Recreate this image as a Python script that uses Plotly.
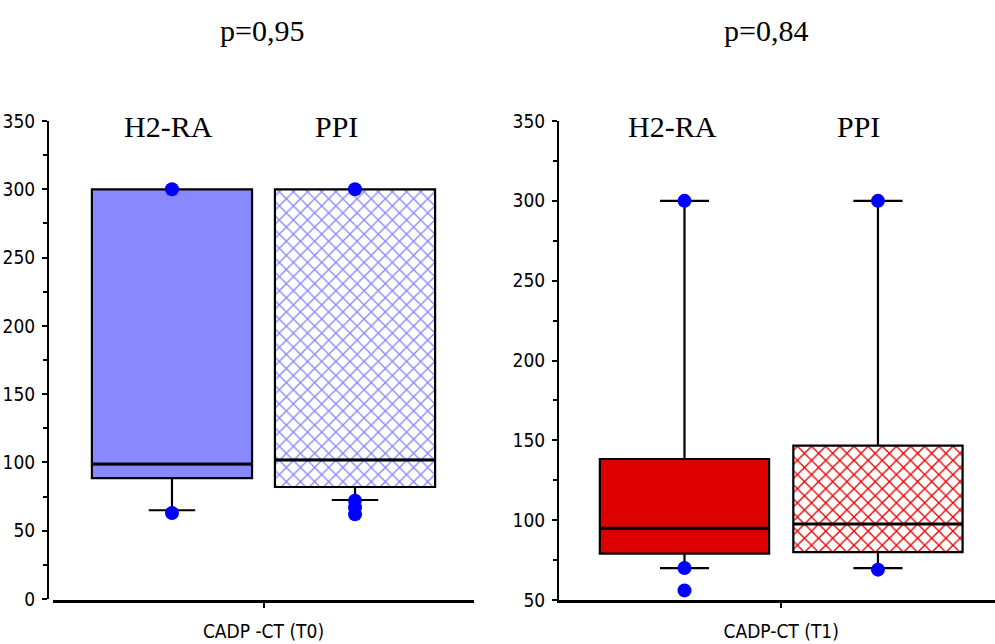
import plotly.graph_objects as go

W, H = 995, 644

# ---- data ----
groups = ["H2-RA", "PPI"]
xpos = [0, 1]

# T0 (left panel)
t0_q1 = [88.5, 82]
t0_median = [98.8, 101.8]
t0_q3 = [300, 300]
t0_low = [65, 72.5]
t0_high = [300, 300]
t0_out_x = [0, 0, 1, 1, 1, 1]
t0_out_y = [300, 63, 300, 72, 67, 62]

# T1 (right panel)
t1_q1 = [79, 80]
t1_median = [95, 97.6]
t1_q3 = [138.3, 146.7]
t1_low = [70, 70]
t1_high = [300, 300]
t1_out_x = [0, 0, 0, 1, 1]
t1_out_y = [300, 70, 56, 300, 69]

titles = ["p=0,95", "p=0,84"]
xlabels = ["CADP -CT (T0)", "CADP-CT (T1)"]
y0_ticks = [0, 50, 100, 150, 200, 250, 300, 350]
y1_ticks = [50, 100, 150, 200, 250, 300, 350]

BLUE_FILL = "#8888ff"
RED_FILL = "#dc0000"
RED_HATCH = "#ee0000"
DOT = "#0000ff"
BOXW = 0.875

def fx(px):
    return px / W

def fy(py):
    return 1 - py / H

fig = go.Figure()

def add_panel(xa, ya, q1, med, q3, lo, hi, ox, oy, color, hatch):
    fig.add_trace(go.Bar(
        x=xpos, base=q1, y=[b - a for a, b in zip(q1, q3)], width=BOXW,
        xaxis=xa, yaxis=ya,
        marker=dict(color=[color, hatch], line=dict(width=0),
                    pattern=dict(shape=["", "x"], size=10, solidity=0.25,
                                 fillmode="replace")),
        showlegend=False, hoverinfo="skip"))
    fig.add_trace(go.Box(
        x=xpos, q1=q1, median=med, q3=q3, lowerfence=lo, upperfence=hi,
        width=BOXW, whiskerwidth=0.29, boxpoints=False,
        fillcolor="rgba(0,0,0,0)", line=dict(color="black", width=2.2),
        xaxis=xa, yaxis=ya, showlegend=False))
    # thicker median lines
    mx, my = [], []
    for c, m in zip(xpos, med):
        mx += [c - BOXW / 2, c + BOXW / 2, None]
        my += [m, m, None]
    fig.add_trace(go.Scatter(
        x=mx, y=my, mode="lines", xaxis=xa, yaxis=ya,
        line=dict(color="black", width=3), showlegend=False, hoverinfo="skip"))
    fig.add_trace(go.Scatter(
        x=ox, y=oy, mode="markers", xaxis=xa, yaxis=ya,
        marker=dict(color=DOT, size=14, symbol="circle", line=dict(width=0)),
        showlegend=False, cliponaxis=False))

add_panel("x", "y", t0_q1, t0_median, t0_q3, t0_low, t0_high, t0_out_x, t0_out_y,
          BLUE_FILL, BLUE_FILL)
add_panel("x2", "y2", t1_q1, t1_median, t1_q3, t1_low, t1_high, t1_out_x, t1_out_y,
          RED_FILL, RED_HATCH)

tickfont = dict(family="DejaVu Sans Condensed, Liberation Sans Narrow, Arial Narrow, sans-serif",
                size=19, color="black")

xcommon = dict(showline=True, linecolor="black", linewidth=3, ticks="outside",
               ticklen=5, tickwidth=1.5, tickcolor="black", showgrid=False,
               zeroline=False, tickfont=tickfont, automargin=False,
               anchor="free", position=fy(601), fixedrange=True,
               ticklabelstandoff=7)
ycommon = dict(showline=True, linecolor="black", linewidth=2, ticks="outside",
               ticklen=5, tickwidth=2, tickcolor="black", showgrid=False,
               zeroline=False, tickfont=tickfont, automargin=False,
               anchor="free", dtick=50, fixedrange=True, ticklabelstandoff=3,
               minor=dict(dtick=25, ticks="outside", ticklen=4, tickwidth=1.5,
                          tickcolor="black", showgrid=False),
               domain=[fy(599), fy(121)])

fig.update_layout(
    width=W, height=H, template="none",
    paper_bgcolor="white", plot_bgcolor="rgba(0,0,0,0)",
    margin=dict(l=0, r=0, t=0, b=0),
    barmode="overlay", boxmode="overlay", showlegend=False,
    xaxis=dict(xcommon, domain=[fx(53), fx(474)], range=[-0.65, 1.65],
               tickvals=[0.5], ticktext=[xlabels[0]]),
    yaxis=dict(ycommon, range=[0, 350], position=fx(48), tickvals=y0_ticks),
    xaxis2=dict(xcommon, domain=[fx(557), 1.0], range=[-0.659, 1.605],
                tickvals=[0.5], ticktext=[xlabels[1]]),
    yaxis2=dict(ycommon, range=[50, 350], position=fx(558), tickvals=y1_ticks,
                domain=[fy(600), fy(121)]),
)

serif = dict(family="Liberation Serif, Times New Roman, serif", size=30, color="black")
ann = [
    (titles[0], 262, 30), (titles[1], 766, 30),
    (groups[0], 168, 127), (groups[1], 336, 127),
    (groups[0], 672, 127), (groups[1], 858, 127),
]
for txt, px, py in ann:
    fig.add_annotation(text=txt, x=fx(px), y=fy(py), xref="paper", yref="paper",
                       showarrow=False, font=serif, xanchor="center", yanchor="middle")

fig.write_html("out.html")
